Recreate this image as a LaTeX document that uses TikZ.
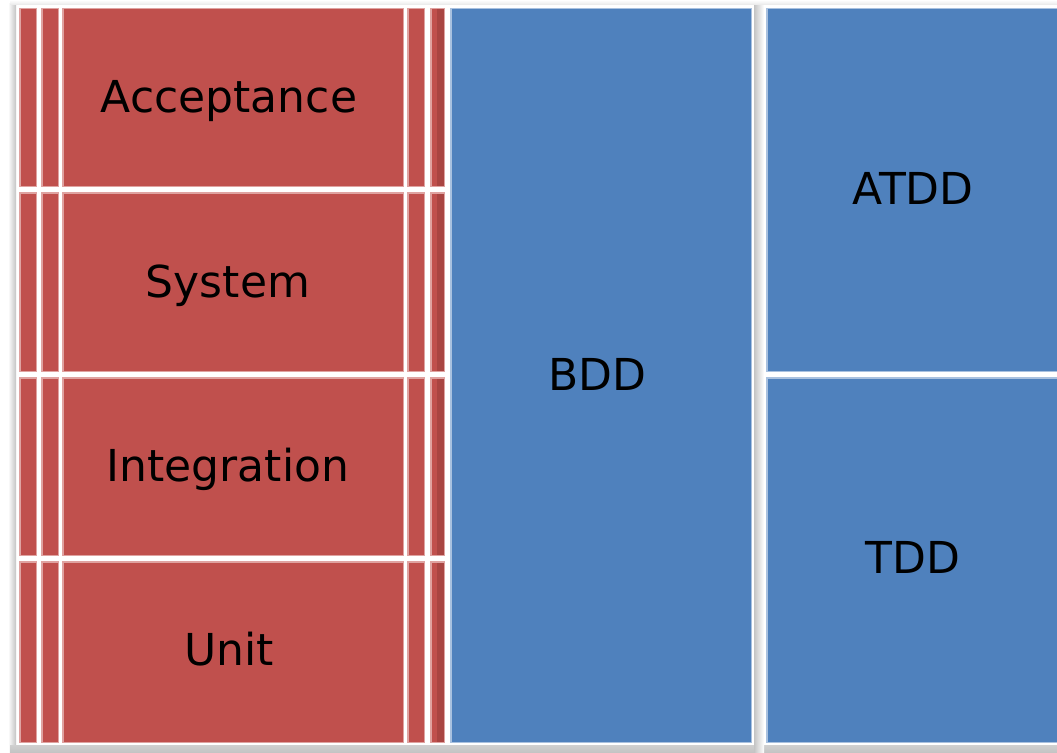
\documentclass[tikz,border=0pt]{standalone}
\usepackage{fontspec}
\setmainfont{DejaVu Sans}
\definecolor{redfill}{HTML}{C0504D}
\definecolor{rededge}{HTML}{DFA3A1}
\definecolor{reddark}{HTML}{A94542}
\definecolor{bluefill}{HTML}{4F81BD}
\definecolor{blueedge}{HTML}{A9C1DF}
\definecolor{shadowgray}{HTML}{C4C4C4}
\begin{document}
\begin{tikzpicture}[x=1pt,y=-1pt,
  cell/.style={anchor=north west,inner sep=0pt,outer sep=0pt,line width=1.5pt},
  redcell/.style={cell,fill=redfill,draw=rededge},
  bluecell/.style={cell,fill=bluefill,draw=blueedge},
  lbl/.style={anchor=base,inner sep=0pt,text=black,font=\fontsize{44}{50}\selectfont}]
\useasboundingbox (0,0) rectangle (1057,752);
\fill[white] (0,0) rectangle (1057,752);
% drop shadow
\shade[left color=white,right color=shadowgray] (8,4) rectangle (16,752);
\shade[top color=shadowgray!80,bottom color=shadowgray] (10,745) rectangle (1057,752);
\shade[left color=shadowgray,right color=white] (754,4) rectangle (764,752);
\shade[top color=white,bottom color=shadowgray!40] (10,0) rectangle (1057,5);
% red grid
\foreach \ya/\yb/\r in {8/187/a,192/372/b,377/556/c,561/743/d}{
  \foreach \xa/\xb/\c in {19/37/1,41/59/2,62/404/3,407/425/4,430/445/5}{
    \node[redcell,minimum width={\xb-\xa-1.5},minimum height={\yb-\ya-1.5}]
      (r\r\c) at (\xa+0.75,\ya+0.75) {};
  }
  \fill[reddark] (437,\ya+1.5) rectangle (444.2,\yb-1.5);
}
% blue
\node[bluecell,minimum width=300.5,minimum height=733.5] (bdd) at (450.75,8.75) {};
\node[bluecell,minimum width=300,minimum height=362.5] (atdd) at (766.75,8.75) {};
\node[bluecell,minimum width=300,minimum height=364.5] (tdd) at (766.75,377.75) {};
% labels
\node[lbl] (tacc) at (229,112) {Acceptance};
\node[lbl] (tsys) at (228,297) {System};
\node[lbl] (tint) at (228,481) {Integration};
\node[lbl] (tunit) at (229,665) {Unit};
\node[lbl] (tbdd) at (597,390) {BDD};
\node[lbl] (tatdd) at (913,204) {ATDD};
\node[lbl] (ttdd) at (913,573) {TDD};
\end{tikzpicture}
\end{document}
